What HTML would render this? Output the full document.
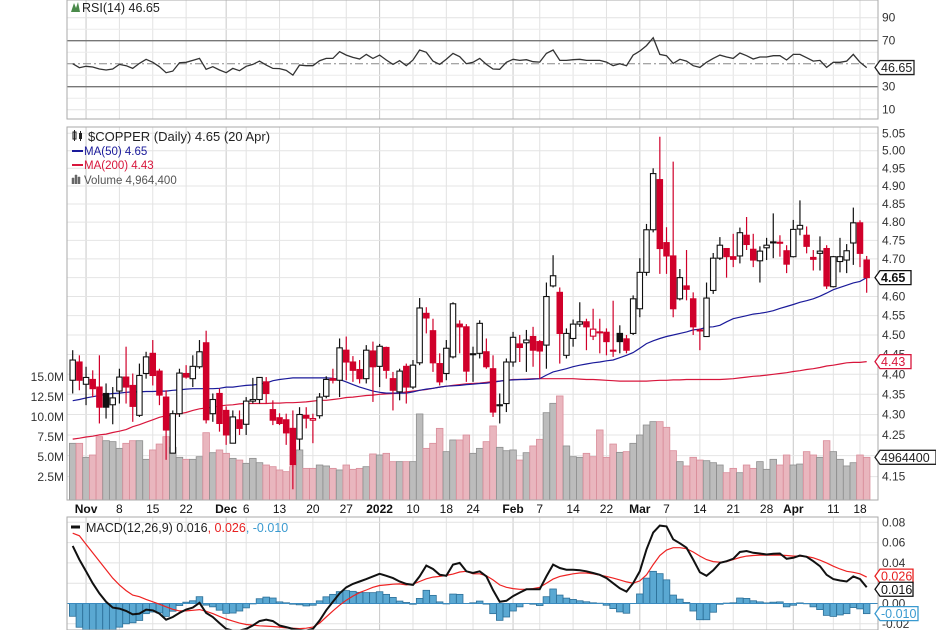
<!DOCTYPE html>
<html><head><meta charset="utf-8">
<style>
html,body{margin:0;padding:0;background:#fff;}
svg{display:block;font-family:"Liberation Sans",sans-serif;}
</style></head>
<body>
<svg id="chart" width="936" height="630" viewBox="0 0 936 630" xmlns="http://www.w3.org/2000/svg">
  <rect x="0" y="0" width="936" height="630" fill="#fff"/>
  <g id="grid"></g>
  <g id="vol"></g>
  <g id="ma"></g>
  <g id="candles"></g>
  <g id="rsi"></g>
  <g id="macd"></g>
  <g id="axes"></g>
  <g>
    <path d="M71 12 L74 3 L76 8 L78 2 L80 12 Z" fill="#4a8a4a"/>
    <text x="82" y="12" font-size="12.5" fill="#222">RSI(14) 46.65</text>
  </g>
  <g>
    <g>
      <rect x="73" y="132" width="3" height="7" fill="#fff" stroke="#222"/>
      <rect x="79" y="133" width="3" height="6" fill="#222"/>
      <line x1="74.5" y1="130" x2="74.5" y2="141" stroke="#222"/>
      <line x1="80.5" y1="131" x2="80.5" y2="141" stroke="#222"/>
    </g>
    <text x="88" y="141" font-size="13" fill="#222">$COPPER (Daily) 4.65 (20 Apr)</text>
    <line x1="72" y1="151" x2="83" y2="151" stroke="#1a1a9a" stroke-width="2"/>
    <text x="84" y="155" font-size="11.5" fill="#1a1a9a">MA(50) 4.65</text>
    <line x1="72" y1="165" x2="83" y2="165" stroke="#d8163c" stroke-width="2"/>
    <text x="84" y="169" font-size="11.5" fill="#d8163c">MA(200) 4.43</text>
    <path d="M72 184 v-6 h2 v6 M75 184 v-9 h2 v9 M78 184 v-7 h2 v7" fill="#666" stroke="#666" stroke-width="0.5"/>
    <text x="84" y="184" font-size="11.5" fill="#555">Volume 4,964,400</text>
  </g>
  <g>
    <line x1="71" y1="527" x2="80" y2="527" stroke="#111" stroke-width="3"/>
    <text x="86" y="532" font-size="12.5"><tspan fill="#222">MACD(12,26,9) 0.016</tspan><tspan fill="#e82020">, 0.026</tspan><tspan fill="#3a9ad0">, -0.010</tspan></text>
  </g>
</svg>
<script>
const openP=[4.385,4.431,4.375,4.387,4.368,4.352,4.324,4.358,4.393,4.372,
4.298,4.402,4.453,4.408,4.343,4.206,4.302,4.402,4.389,4.419,
4.48,4.302,4.352,4.31,4.23,4.287,4.276,4.333,4.337,4.381,
4.312,4.292,4.287,4.266,4.24,4.298,4.286,4.297,4.345,4.389,
4.385,4.461,4.431,4.412,4.389,4.459,4.42,4.468,4.389,4.356,
4.42,4.368,4.429,4.556,4.511,4.427,4.402,4.444,4.528,4.521,
4.45,4.453,4.457,4.414,4.322,4.327,4.431,4.477,4.48,4.496,
4.483,4.474,4.628,4.611,4.448,4.491,4.528,4.534,4.497,4.508,
4.507,4.461,4.504,4.49,4.504,4.568,4.664,4.779,4.918,4.744,
4.708,4.594,4.628,4.594,4.513,4.496,4.616,4.702,4.728,4.706,
4.708,4.764,4.726,4.695,4.73,4.745,4.745,4.722,4.706,4.781,
4.764,4.704,4.715,4.728,4.626,4.693,4.697,4.743,4.798,4.697];
const highP=[4.461,4.448,4.419,4.41,4.448,4.377,4.368,4.414,4.47,4.402,
4.427,4.457,4.487,4.414,4.36,4.31,4.414,4.423,4.448,4.487,
4.511,4.352,4.364,4.32,4.31,4.31,4.343,4.391,4.393,4.393,
4.335,4.303,4.302,4.31,4.318,4.318,4.302,4.353,4.395,4.414,
4.491,4.496,4.446,4.436,4.474,4.483,4.477,4.47,4.406,4.414,
4.427,4.436,4.596,4.572,4.542,4.453,4.487,4.585,4.538,4.528,
4.47,4.538,4.491,4.448,4.352,4.44,4.508,4.50,4.513,4.521,
4.487,4.637,4.71,4.624,4.517,4.54,4.585,4.542,4.568,4.542,
4.517,4.589,4.525,4.50,4.603,4.702,4.795,4.95,5.04,4.786,
4.969,4.673,4.724,4.611,4.517,4.637,4.716,4.759,4.728,4.768,
4.785,4.814,4.768,4.734,4.757,4.824,4.764,4.737,4.806,4.86,
4.788,4.724,4.761,4.737,4.708,4.757,4.74,4.84,4.805,4.708];
const lowP=[4.352,4.36,4.323,4.343,4.278,4.29,4.276,4.327,4.327,4.282,
4.294,4.389,4.372,4.323,4.19,4.206,4.294,4.389,4.368,4.414,
4.278,4.282,4.258,4.226,4.23,4.25,4.25,4.327,4.327,4.327,
4.274,4.274,4.226,4.12,4.214,4.266,4.23,4.29,4.34,4.377,
4.343,4.385,4.381,4.377,4.377,4.331,4.368,4.389,4.31,4.335,
4.327,4.363,4.423,4.504,4.406,4.372,4.385,4.44,4.453,4.381,
4.381,4.44,4.414,4.294,4.278,4.306,4.419,4.431,4.406,4.419,
4.389,4.414,4.624,4.427,4.44,4.47,4.521,4.461,4.487,4.453,
4.448,4.444,4.453,4.453,4.50,4.546,4.655,4.772,4.66,4.66,
4.546,4.59,4.59,4.50,4.461,4.496,4.607,4.697,4.65,4.678,
4.688,4.724,4.678,4.637,4.697,4.702,4.706,4.662,4.704,4.764,
4.715,4.669,4.669,4.62,4.624,4.664,4.662,4.684,4.678,4.61];
const closeP=[4.436,4.385,4.392,4.364,4.318,4.318,4.341,4.393,4.368,4.32,
4.397,4.444,4.397,4.348,4.262,4.302,4.403,4.393,4.42,4.457,
4.287,4.337,4.278,4.25,4.294,4.266,4.333,4.337,4.392,4.352,
4.286,4.278,4.255,4.178,4.30,4.291,4.29,4.343,4.387,4.385,
4.467,4.431,4.41,4.389,4.461,4.419,4.471,4.41,4.36,4.408,
4.368,4.423,4.57,4.544,4.429,4.381,4.466,4.581,4.521,4.408,
4.452,4.53,4.419,4.306,4.324,4.431,4.494,4.468,4.487,4.461,
4.459,4.60,4.655,4.504,4.504,4.528,4.534,4.521,4.515,4.506,
4.483,4.459,4.483,4.461,4.594,4.664,4.779,4.935,4.728,4.708,
4.568,4.65,4.619,4.521,4.511,4.596,4.702,4.737,4.706,4.699,
4.771,4.739,4.697,4.721,4.737,4.746,4.744,4.686,4.78,4.791,
4.734,4.699,4.721,4.628,4.706,4.706,4.722,4.798,4.715,4.65];
const volumeM=[6.71,6.71,4.96,5.25,7.54,7.04,6.92,6.08,6.71,7.04,
7.04,4.71,5.88,6.62,7.54,6.21,4.96,4.71,4.71,5.04,
8.04,5.54,5.88,5.46,4.83,4.62,4.21,4.83,4.29,4.0,
3.79,3.38,3.17,3.79,5.88,3.58,3.58,4.0,3.88,3.58,
3.38,4.0,3.46,3.58,3.79,5.38,5.25,5.46,4.42,4.42,
4.42,4.42,10.38,6.08,6.71,8.58,5.67,7.13,7.13,7.75,
5.46,6.08,6.92,8.88,6.21,5.79,5.88,4.62,5.54,6.38,
7.21,10.54,11.71,12.63,6.38,5.04,4.96,5.46,5.04,8.38,
4.96,6.62,5.58,5.67,6.71,7.75,9.0,9.42,9.42,8.71,
5.79,4.42,3.88,4.96,4.62,4.54,4.29,4.0,3.04,3.58,
3.04,4.0,3.58,4.42,3.46,4.71,4.0,5.25,4.0,4.12,
5.67,5.25,4.96,7.04,5.67,4.71,3.88,4.29,5.25,4.96];
const ma50=[4.334,4.337,4.341,4.344,4.347,4.35,4.352,4.353,4.355,4.356,
4.356,4.357,4.357,4.358,4.358,4.36,4.361,4.363,4.364,4.364,
4.364,4.364,4.365,4.368,4.368,4.37,4.372,4.373,4.375,4.378,
4.384,4.387,4.389,4.391,4.391,4.391,4.391,4.391,4.391,4.39,
4.387,4.381,4.374,4.368,4.363,4.358,4.355,4.353,4.353,4.353,
4.353,4.356,4.36,4.363,4.365,4.368,4.37,4.371,4.372,4.374,
4.375,4.377,4.378,4.38,4.383,4.385,4.386,4.387,4.387,4.388,
4.389,4.398,4.406,4.41,4.414,4.419,4.423,4.426,4.429,4.431,
4.434,4.436,4.442,4.448,4.455,4.466,4.478,4.485,4.491,4.496,
4.50,4.504,4.508,4.513,4.515,4.52,4.521,4.525,4.534,4.542,
4.546,4.55,4.554,4.556,4.559,4.563,4.569,4.574,4.579,4.585,
4.589,4.594,4.601,4.609,4.618,4.624,4.63,4.636,4.64,4.65];
const ma200=[4.24,4.242,4.245,4.247,4.25,4.252,4.256,4.259,4.263,4.27,
4.275,4.281,4.287,4.293,4.297,4.30,4.302,4.305,4.31,4.314,
4.316,4.318,4.321,4.323,4.324,4.326,4.327,4.327,4.327,4.327,
4.328,4.328,4.329,4.329,4.33,4.331,4.333,4.335,4.335,4.337,
4.339,4.342,4.343,4.345,4.347,4.348,4.35,4.351,4.352,4.353,
4.356,4.358,4.36,4.362,4.365,4.368,4.37,4.372,4.374,4.376,
4.377,4.378,4.38,4.382,4.383,4.385,4.387,4.387,4.388,4.389,
4.389,4.389,4.389,4.389,4.389,4.389,4.388,4.387,4.387,4.386,
4.385,4.384,4.383,4.383,4.383,4.383,4.383,4.384,4.385,4.385,
4.386,4.386,4.387,4.387,4.387,4.387,4.387,4.387,4.388,4.389,
4.391,4.393,4.395,4.396,4.398,4.40,4.402,4.404,4.407,4.409,
4.412,4.414,4.417,4.421,4.423,4.426,4.429,4.43,4.43,4.432];
const rsiVals=[50,46.5,47.7,47.1,45.4,44.5,45.4,49.4,48.3,45.9,
50.3,53.8,51.2,47.4,42.2,43.6,50.9,51.2,52.9,54.6,
45.1,47.4,44.5,42.2,45.9,43.9,47.7,49.4,52.3,48.8,
45.9,45.7,44.2,40.1,48.8,48.3,48.3,52.6,54.6,54.6,
60.4,57.5,55.5,54.1,58.1,54.6,57.5,53.2,49.4,52.6,
48.3,53.2,61.9,59.9,52.3,49.4,53.8,59,56.1,50,
51.2,54.6,49.4,45.4,45.1,51.2,53.8,52.9,53.5,51.7,
51.4,59,61.9,52.9,52.9,53.5,53.8,52.9,52.9,52.9,
51.4,48.3,50,48.3,57.5,61,65.7,72.6,58.1,57,
50.3,53.8,52.3,48.3,46.8,51.2,54.6,57.5,55.8,54.6,
59.3,57,54.1,55.8,55.8,57,57,53.2,58.1,58.1,
55.2,52.3,52.9,46.8,51.2,51.2,52.3,58.1,51.2,46.65];
const macdLine=[56.7,43.3,31.7,20,10,1.7,-4,-5,-7.3,-10.7,
-10,-6,-6.7,-10,-16,-13.3,-9.3,-6,-4,0.7,
-9.3,-13.3,-19.3,-25,-26.7,-26.7,-25,-21.7,-17.3,-16,
-17.3,-21.7,-23.3,-25,-26,-26.7,-25,-16.7,-6.7,1.7,
10,16,19.3,21.7,24,26.7,29.3,27.3,25,21.7,
19.3,18.3,26.7,37.3,34,28.3,27.3,38.3,40,31.7,
30,31.7,26.7,13.3,1.7,2.7,7.3,10.7,14,14,
14,26.7,38.3,35,33.3,33.3,32.7,31.7,30,28.3,
25,20,15,11.7,20,31.7,53.3,70,76.7,76,
63.3,59.3,55,43.3,30.7,27.3,32.7,40,41.7,44,
50.7,51.7,50,49.3,48.3,49,49.3,44,45,47.3,
46,41.7,36.7,28.3,24,22.7,21.7,26.7,24,16];
const signalLine=[69.3,66.7,58.3,50,41.7,33.3,25,18.3,12.7,8.3,
6.7,4,1.7,-0.7,-3.3,-5.7,-7.3,-7.3,-6.7,-6,
-7.7,-10,-12.7,-15.3,-17.3,-19.3,-20.7,-21.3,-22,-22.3,
-22.7,-23.3,-24,-24.3,-24.7,-24.3,-23.3,-19.3,-13.3,-7.3,
-1.7,3.3,7.3,10.7,13.3,16,17.7,18.3,19,19.3,
18.3,19,21.7,24.3,26,26.7,27.7,29,31,31.7,
29.3,29.3,27.3,23.3,18.3,16,14.7,14,14,14.7,
16,20,24,26.7,28,29.3,30,30,29.3,28,
26.7,25,23.3,21.3,20,22.3,28.3,38.3,47.3,52.7,
55,55,54,50.7,46.7,43.3,41.3,40.7,41.3,43.3,
45.3,46.7,47.3,47.7,47.7,47.7,47.7,47.3,46.7,46.7,
46.3,45,42.7,40,36.7,34,31.7,30.7,29.3,26];
const dateTickIdx=[2,7,12,17,23,26,31,36,41,46,51,56,60,66,70,75,80,85,89,94,99,104,108,114,118];
const dateTickText=["Nov","8","15","22","Dec","6","13","20","27","2022","10","18","24","Feb","7","14","22","Mar","7","14","21","28","Apr","11","18"];
const dateTickMajor=[1,0,0,0,1,0,0,0,0,1,0,0,0,1,0,0,0,1,0,0,0,0,1,0,0];
const priceTicks=[5.05,5.00,4.95,4.90,4.85,4.80,4.75,4.70,4.60,4.55,4.50,4.45,4.40,4.35,4.30,4.25,4.15];
const priceGrid=[5.05,5.00,4.95,4.90,4.85,4.80,4.75,4.70,4.65,4.60,4.55,4.50,4.45,4.40,4.35,4.30,4.25,4.20,4.15];
const volTicks=[15,12.5,10,7.5,5,2.5];
const volTickText=["15.0M","12.5M","10.0M","7.5M","5.0M","2.5M"];
const rsiTicks=[90,70,30,10];
const macdTicks=[80,60,40,20,0,-20];
const macdTickText=["0.08","0.06","0.04","0.02","0.00","-0.02"];

const L=67, R=878;
const x=i=>72.7+i*6.672;
const yP=p=>133.3+1749*Math.log(5.05/p);
const yV=v=>497-v*8;
const yR=r=>63.7-(r-50)*1.15;
const yM=m=>603.5-m*1.015;
const NS="http://www.w3.org/2000/svg";
function mk(tag,attrs,parent){const e=document.createElementNS(NS,tag);for(const k in attrs)e.setAttribute(k,attrs[k]);parent.appendChild(e);return e;}
const grid=document.getElementById('grid'), axes=document.getElementById('axes');

const panels=[[0,119],[127,500],[517,630]];
dateTickIdx.forEach((d,k)=>{panels.forEach(p=>{
  const ln=mk('line',{x1:x(d),x2:x(d),y1:p[0],y2:p[1],stroke:dateTickMajor[k]?'#c8c8c8':'#e2e2e2','stroke-width':1},grid);
  
  
});
  const t=mk('text',{x:x(d),y:513,'font-size':12,'text-anchor':'middle',fill:'#111','font-weight':dateTickMajor[k]?'bold':'normal'},axes);
  t.textContent=dateTickText[k];
  
  
});
priceGrid.forEach(p=>{const ln=mk('line',{x1:L,x2:R,y1:yP(p),y2:yP(p),stroke:'#e4e4e4'},grid);
  
  });
priceTicks.forEach(p=>{const t=mk('text',{x:882,y:yP(p)+4,'font-size':12,fill:'#333'},axes);t.textContent=p.toFixed(2);
  
  });
volTicks.forEach((v,k)=>{const t=mk('text',{x:64,y:yV(v)+4,'font-size':12,fill:'#333','text-anchor':'end'},axes);t.textContent=volTickText[k];
  
  });
[80,60,40,20].forEach(r=>{const ln=mk('line',{x1:L,x2:R,y1:yR(r),y2:yR(r),stroke:'#ececec'},grid);
  
  });
[90,10].forEach(r=>{const ln=mk('line',{x1:L,x2:R,y1:yR(r),y2:yR(r),stroke:'#e2e2e2'},grid);
  
  });
rsiTicks.forEach(r=>{const t=mk('text',{x:882,y:yR(r)+4,'font-size':12,fill:'#333'},axes);t.textContent=String(r);
  
  });
macdTicks.forEach((m,k)=>{const ln=mk('line',{x1:L,x2:R,y1:yM(m),y2:yM(m),stroke:'#e2e2e2'},grid);
  
  
  const t=mk('text',{x:882,y:yM(m)+4,'font-size':12,fill:'#333'},axes);t.textContent=macdTickText[k];
  
  });

panels.forEach(p=>{const b=mk('rect',{x:L,y:p[0],width:R-L,height:p[1]-p[0],fill:'none',stroke:'#aaa'},axes);
  
  });

const volG=document.getElementById('vol');
volumeM.forEach((v,i)=>{const dn=i>0&&closeP[i]<closeP[i-1];
  const r=mk('rect',{x:x(i)-3.3,y:yV(v),width:6.6,height:497-yV(v)+3,fill:dn?'#e9b6be':'#bcbcbc',stroke:dn?'#d98d9a':'#8e8e8e','stroke-width':0.8},volG);
  
  });

function pathOf(arr,fx,fy){return arr.map((v,i)=>(i?'L':'M')+fx(i).toFixed(1)+' '+fy(v).toFixed(1)).join(' ');}
const maG=document.getElementById('ma');
const m200=mk('path',{d:pathOf(ma200,x,yP),fill:'none',stroke:'#d8163c','stroke-width':1.2},maG);


const m50=mk('path',{d:pathOf(ma50,x,yP),fill:'none',stroke:'#1a1a9a','stroke-width':1.2},maG);



const cG=document.getElementById('candles');
openP.forEach((o,i)=>{const c=closeP[i];const dn=i>0&&c<closeP[i-1];const col=dn?'#d0002a':'#111';
  const g=mk('g',{},cG);
  
  
  mk('line',{x1:x(i),x2:x(i),y1:yP(highP[i]),y2:yP(lowP[i]),stroke:col,'stroke-width':1.2},g);
  const top=yP(Math.max(o,c)),bot=yP(Math.min(o,c));
  mk('rect',{x:x(i)-2.7,y:top,width:5.4,height:Math.max(bot-top,1),fill:c<o?col:'#fff',stroke:col,'stroke-width':1.1},g);
});

const rG=document.getElementById('rsi');
[70,30].forEach(r=>{const ln=mk('line',{x1:L,x2:R,y1:yR(r),y2:yR(r),stroke:'#777','stroke-width':1.3},rG);
  
  });
const mid=mk('line',{x1:L,x2:R,y1:yR(50),y2:yR(50),stroke:'#888','stroke-dasharray':'8 3 2 3'},rG);


const rl=mk('path',{d:pathOf(rsiVals,x,yR),fill:'none',stroke:'#333','stroke-width':1.3},rG);



const mG=document.getElementById('macd');
const clip=mk('clipPath',{id:'mclip'},mG);mk('rect',{x:L,y:517,width:R-L,height:113},clip);
const mInner=mk('g',{'clip-path':'url(#mclip)'},mG);
macdLine.forEach((m,i)=>{const h=m-signalLine[i];const y0=yM(0),y1=yM(h);
  const r=mk('rect',{x:x(i)-3.3,y:Math.min(y0,y1),width:6.6,height:Math.abs(y1-y0),fill:'#5aa8d2',stroke:'#2c6f98','stroke-width':0.8},mInner);
  
  });
const zl=mk('line',{x1:L,x2:R,y1:yM(0),y2:yM(0),stroke:'#3a8abf','stroke-width':1},mInner);


const sl=mk('path',{d:pathOf(signalLine,x,yM),fill:'none',stroke:'#ee2222','stroke-width':1.2},mInner);


const ml=mk('path',{d:pathOf(macdLine,x,yM),fill:'none',stroke:'#111','stroke-width':2},mInner);



function tag(y,txt,col,bold,w,name){
  const g=mk('g',{},axes);
  
  
  mk('path',{d:`M875 ${y} L880 ${y-7} L${880+w} ${y-7} L${880+w} ${y+7} L880 ${y+7} Z`,fill:'#fff',stroke:col,'stroke-width':1.3},g);
  const t=mk('text',{x:881,y:y+4.5,'font-size':12.5,fill:col,'font-weight':bold?'bold':'normal'},g);t.textContent=txt;
}
tag(yR(46.65),'46.65','#222',false,34,'rsi-value-tag');
tag(yP(4.65),'4.65','#111',true,31,'price-value-tag');
tag(yP(4.432),'4.43','#d8163c',false,31,'ma200-value-tag');
tag(yV(4.96),'4964400','#222',false,56,'volume-value-tag');
tag(yM(26)-1,'0.026','#e82020',false,33,'signal-value-tag');
tag(yM(16)+2,'0.016','#111',false,33,'macd-value-tag');
tag(yM(-10),'-0.010','#3a9ad0',false,38,'histogram-value-tag');
</script>
</body></html>
